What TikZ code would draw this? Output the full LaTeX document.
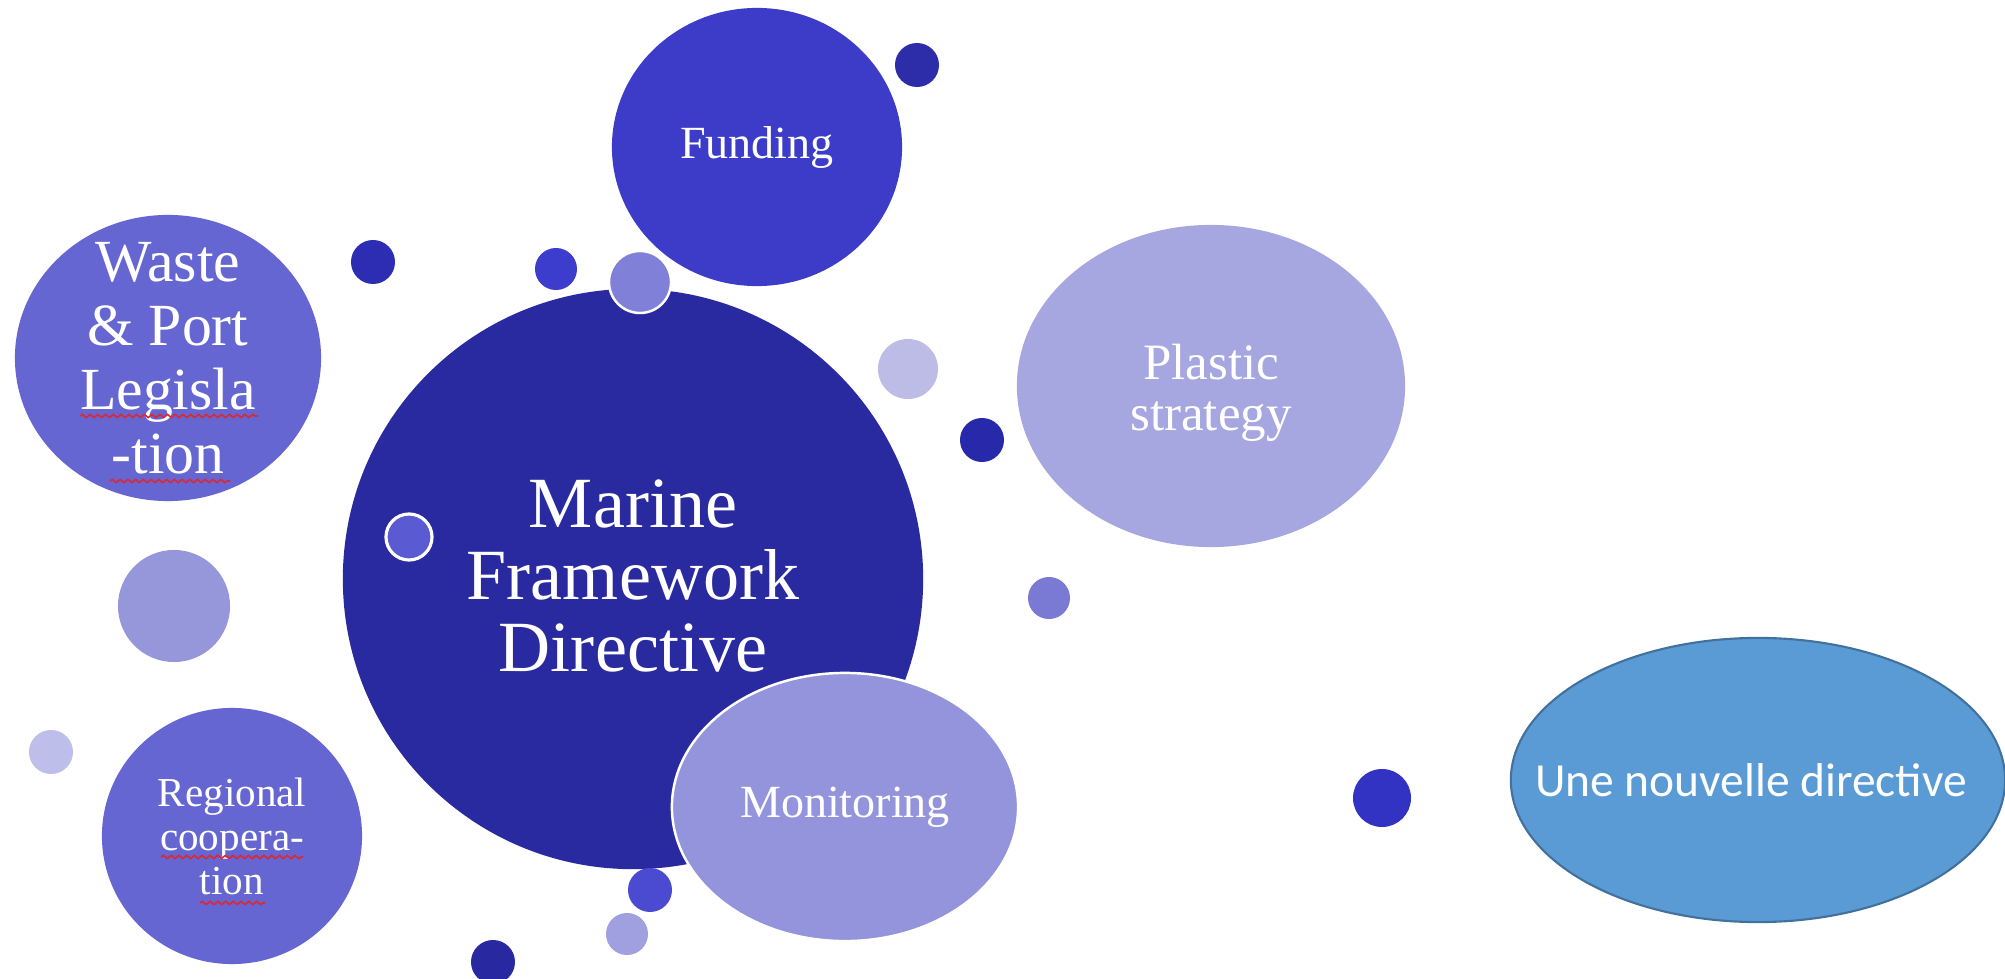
\documentclass[tikz,border=0pt]{standalone}
\usepackage{fontspec}
\setmainfont{Liberation Serif}
\newfontfamily\officefont{Carlito}
\usetikzlibrary{shapes.geometric}
\usetikzlibrary{decorations.pathmorphing}
\definecolor{mfdblue}{RGB}{42,42,160}
\definecolor{fundblue}{RGB}{60,60,200}
\definecolor{wasteblue}{RGB}{102,102,210}
\definecolor{plasticlav}{RGB}{166,166,224}
\definecolor{monitorlav}{RGB}{148,148,220}
\definecolor{newblue}{RGB}{91,155,213}
\definecolor{newedge}{RGB}{65,113,156}
\definecolor{spellred}{RGB}{220,40,50}
\begin{document}
\begin{tikzpicture}[x=0.01cm,y=-0.01cm,
    bubble/.style={ellipse,inner sep=0pt,outer sep=0pt},
    dot/.style={circle,inner sep=0pt,outer sep=0pt,minimum size=#1},
    bubbletext/.style={text=white,align=center,inner sep=0pt},
    spell/.style={spellred,line width=0.45pt,decorate,decoration={snake,amplitude=0.45pt,segment length=2.2pt}}]
        \useasboundingbox (0,0) rectangle (2005,979);
        \node[bubble,fill=fundblue,minimum width=2.90cm,minimum height=2.78cm] (fund) at (757,147) {};
        \node[bubble,fill=wasteblue,minimum width=3.06cm,minimum height=2.86cm] (waste) at (168,358) {};
        \node[bubble,fill=plasticlav,minimum width=3.88cm,minimum height=3.22cm] (plastic) at (1211,386) {};
        \node[bubble,fill=wasteblue,minimum width=2.60cm,minimum height=2.56cm] (regional) at (232,836) {};
        \node[bubble,fill=mfdblue,minimum width=5.80cm,minimum height=5.80cm] (mfd) at (633,579) {};
        \node[bubble,fill=monitorlav,draw=white,line width=0.7pt,minimum width=3.46cm,minimum height=2.68cm] (monitor) at (845,807) {};
        \node[bubble,fill=newblue,draw=newedge,line width=0.6pt,minimum width=4.94cm,minimum height=2.84cm] (new) at (1758,780) {};
        % small bubbles
        \node[dot=0.44cm,fill={rgb,255:red,45;green,45;blue,170}] (d1) at (917,65) {};
        \node[dot=0.44cm,fill={rgb,255:red,45;green,45;blue,180}] (d2) at (373,262) {};
        \node[dot=0.42cm,fill={rgb,255:red,60;green,60;blue,205}] (d3) at (556,269) {};
        \node[dot=0.62cm,fill={rgb,255:red,128;green,128;blue,216},draw=white,line width=0.7pt] (d4) at (640,282) {};
        \node[dot=0.60cm,fill={rgb,255:red,188;green,188;blue,230}] (d5) at (908,369) {};
        \node[dot=0.44cm,fill={rgb,255:red,40;green,40;blue,170}] (d6) at (982,440) {};
        \node[dot=0.42cm,fill={rgb,255:red,122;green,122;blue,212}] (d7) at (1049,598) {};
        \node[dot=0.46cm,fill={rgb,255:red,90;green,90;blue,210},draw=white,line width=0.9pt] (d8) at (409,537) {};
        \node[dot=1.12cm,fill={rgb,255:red,150;green,150;blue,218}] (d9) at (174,606) {};
        \node[dot=0.44cm,fill={rgb,255:red,190;green,190;blue,235}] (d10) at (51,752) {};
        \node[dot=0.44cm,fill={rgb,255:red,75;green,75;blue,210}] (d11) at (650,890) {};
        \node[dot=0.42cm,fill={rgb,255:red,160;green,160;blue,225}] (d12) at (627,934) {};
        \node[dot=0.44cm,fill={rgb,255:red,40;green,40;blue,160}] (d13) at (493,962) {};
        \node[dot=0.58cm,fill={rgb,255:red,50;green,50;blue,195}] (d14) at (1382,798) {};
        % texts
        \node[bubbletext,font=\fontsize{20.5}{20.6}\selectfont] (mfdtext) at ([yshift=0.03cm]mfd.center) {Marine\\Framework\\Directive};
        \node[bubbletext,font=\fontsize{13.1}{15}\selectfont] (fundtext) at (fund) {Funding};
        \node[bubbletext,font=\fontsize{17}{18.2}\selectfont] (wastetext) at (waste) {Waste\\\& Port\\Legisla\\-tion};
        \node[bubbletext,font=\fontsize{14.5}{14.5}\selectfont] (plastictext) at ([yshift=-0.07cm]plastic.center) {Plastic\\strategy};
        \node[bubbletext,font=\fontsize{11.7}{12.5}\selectfont] (regionaltext) at (regional) {Regional\\coopera-\\tion};
        \node[bubbletext,font=\fontsize{13.1}{15}\selectfont] (monitortext) at (monitor) {Monitoring};
        \node[bubbletext,font=\officefont\fontsize{13.5}{16}\selectfont] (newtext) at ([xshift=-0.07cm]new.center) {Une nouvelle directive};
        % spelling marks
        \draw[spell] (80,416) -- (258,416);
        \draw[spell] (110,481) -- (230,481);
        \draw[spell] (161,857) -- (303,857);
        \draw[spell] (200,903) -- (265,903);
    \end{tikzpicture}
\end{document}
